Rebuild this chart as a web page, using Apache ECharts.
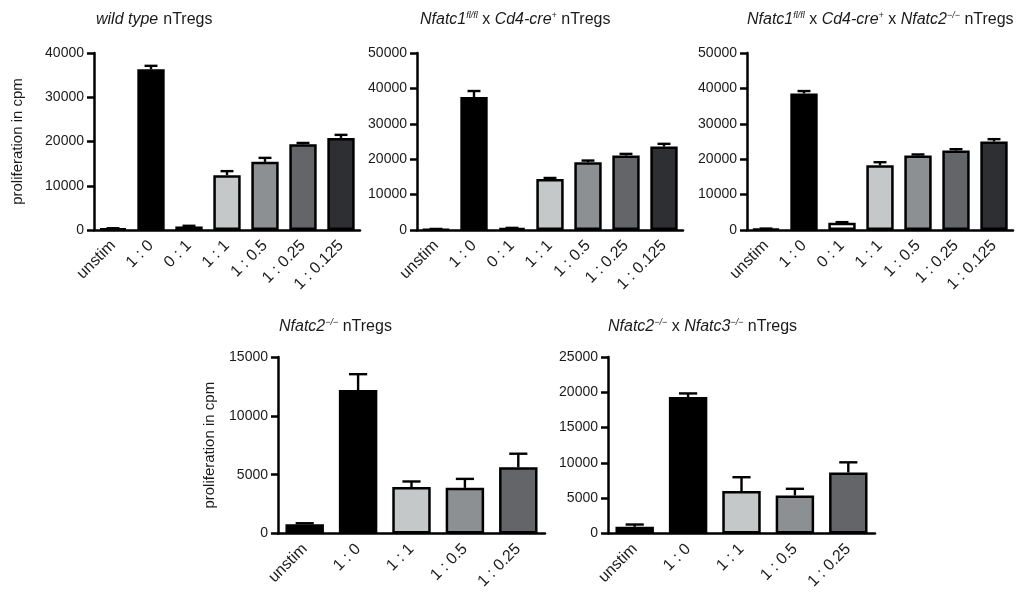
<!DOCTYPE html>
<html>
<head>
<meta charset="utf-8">
<style>
  html, body { margin: 0; padding: 0; background: #fff; }
  #chart { width: 1035px; height: 592px; }
</style>
<script src="https://cdn.jsdelivr.net/npm/echarts@6/dist/echarts.min.js"></script>
</head>
<body>
<div id="chart"></div>
<script>
// categories
var catsTop = ['unstim', '1 : 0', '0 : 1', '1 : 1', '1 : 0.5', '1 : 0.25', '1 : 0.125']
var catsBottom = ['unstim', '1 : 0', '1 : 1', '1 : 0.5', '1 : 0.25']

// means and upper error (SEM)
var wtMean = [300, 36300, 800, 12400, 15400, 19370, 20800]
var wtErr = [100, 800, 150, 900, 900, 300, 700]
var c1Mean = [200, 37560, 500, 14430, 19160, 21040, 23580]
var c1Err = [100, 1700, 100, 270, 460, 460, 760]
var c1c2Mean = [300, 38580, 2070, 18300, 21040, 22450, 25000]
var c1c2Err = [100, 670, 150, 850, 300, 380, 660]
var c2Mean = [790, 12190, 3940, 3880, 5630]
var c2Err = [80, 1350, 480, 760, 1150]
var c2c3Mean = [940, 19330, 6000, 5390, 8630]
var c2c3Err = [330, 510, 1970, 940, 1450]

// y axis ranges
var yMaxTop = [40000, 50000, 50000]
var yMaxBottom = [15000, 25000]
var yStepTop = 10000
var yStepBottom = [5000, 5000]

var FONT = 'Liberation Sans, Arial, sans-serif'
var INK = '#1a1a1a'

var barColorsTop = ['#000000', '#000000', '#000000', '#c5c8c8', '#8d9093', '#636569', '#2e2f32']
var barColorsTop3 = ['#000000', '#000000', '#ffffff', '#c5c8c8', '#8d9093', '#636569', '#2e2f32']
var barColorsBottom = ['#000000', '#000000', '#c5c8c8', '#8d9093', '#636569']

var panels = [
  { grid: { left: 94, top: 53, width: 266, height: 177 }, cats: catsTop, mean: wtMean, err: wtErr, colors: barColorsTop, max: yMaxTop[0], step: yStepTop, yName: 'proliferation in cpm', nameGap: 69 },
  { grid: { left: 417, top: 53, width: 266, height: 177 }, cats: catsTop, mean: c1Mean, err: c1Err, colors: barColorsTop, max: yMaxTop[1], step: yStepTop },
  { grid: { left: 747, top: 53, width: 266, height: 177 }, cats: catsTop, mean: c1c2Mean, err: c1c2Err, colors: barColorsTop3, max: yMaxTop[2], step: yStepTop },
  { grid: { left: 278, top: 357, width: 267, height: 178 }, cats: catsBottom, mean: c2Mean, err: c2Err, colors: barColorsBottom, max: yMaxBottom[0], step: yStepBottom[0], yName: 'proliferation in cpm', nameGap: 61 },
  { grid: { left: 608, top: 357, width: 267, height: 178 }, cats: catsBottom, mean: c2c3Mean, err: c2c3Err, colors: barColorsBottom, max: yMaxBottom[1], step: yStepBottom[1] }
]

var titleRich = {
  it: { fontFamily: FONT, fontSize: 16, fontStyle: 'italic', fontWeight: 'normal', color: INK, lineHeight: 18, verticalAlign: 'bottom' },
  n: { fontFamily: FONT, fontSize: 16, fontWeight: 'normal', color: INK, lineHeight: 18, verticalAlign: 'bottom' },
  sup: { fontFamily: FONT, fontSize: 9, fontStyle: 'italic', fontWeight: 'normal', color: INK, lineHeight: 18, verticalAlign: 'top', padding: [1, 0, 0, 0] }
}
var titles = [
  { left: 96, top: 10, text: '{it|wild type} {n|nTregs}' },
  { left: 420, top: 10, text: '{it|Nfatc1}{sup|fl/fl}{n| x }{it|Cd4-cre}{sup|+}{n| nTregs}' },
  { left: 747, top: 10, text: '{it|Nfatc1}{sup|fl/fl}{n| x }{it|Cd4-cre}{sup|+}{n| x }{it|Nfatc2}{sup|\u2212/\u2212}{n| nTregs}' },
  { left: 279, top: 317, text: '{it|Nfatc2}{sup|\u2212/\u2212}{n| nTregs}' },
  { left: 608, top: 317, text: '{it|Nfatc2}{sup|\u2212/\u2212}{n| x }{it|Nfatc3}{sup|\u2212/\u2212}{n| nTregs}' }
]

function errorBarItem(params, api) {
  var x = api.value(0)
  var v = api.value(1)
  var e = api.value(2)
  var base = api.coord([x, v])
  var top = api.coord([x, v + e])
  var half = api.size([1, 0])[0] * 0.17
  var style = { stroke: '#000', lineWidth: 2.4 }
  return {
    type: 'group',
    children: [
      { type: 'line', shape: { x1: base[0], y1: base[1], x2: top[0], y2: top[1] }, style: style },
      { type: 'line', shape: { x1: top[0] - half, y1: top[1], x2: top[0] + half, y2: top[1] }, style: style }
    ]
  }
}

var option = {
  backgroundColor: '#fff',
  animation: false,
  title: titles.map(function (t) {
    return { left: t.left, top: t.top, padding: 0, text: t.text, textStyle: { fontWeight: 'normal', rich: titleRich } }
  }),
  grid: panels.map(function (p) { return p.grid }),
  xAxis: panels.map(function (p, i) {
    return {
      type: 'category',
      gridIndex: i,
      data: p.cats,
      boundaryGap: true,
      axisLine: { lineStyle: { color: '#000', width: 2.5 } },
      axisTick: { alignWithLabel: true, length: 6, lineStyle: { color: '#000', width: 2.5 } },
      axisLabel: { rotate: 45, fontFamily: FONT, fontSize: 16, color: INK, margin: 13, interval: 0 },
      splitLine: { show: false }
    }
  }),
  yAxis: panels.map(function (p, i) {
    return {
      type: 'value',
      gridIndex: i,
      min: 0,
      max: p.max,
      interval: p.step,
      name: p.yName || '',
      nameLocation: 'middle',
      nameRotate: 90,
      nameGap: p.nameGap || 0,
      nameTextStyle: { fontFamily: FONT, fontSize: 15, color: INK },
      axisLine: { show: true, lineStyle: { color: '#000', width: 2.5 } },
      axisTick: { show: true, length: 7, lineStyle: { color: '#000', width: 2.5 } },
      axisLabel: {
        fontFamily: FONT, fontSize: 14, color: INK, margin: 10,
        formatter: function (v) { return String(v) }
      },
      splitLine: { show: false }
    }
  }),
  series: []
}

panels.forEach(function (p, i) {
  option.series.push({
    type: 'bar',
    xAxisIndex: i,
    yAxisIndex: i,
    barWidth: '72%',
    data: p.mean.map(function (v, j) {
      return { value: v, itemStyle: { color: p.colors[j], borderColor: '#000', borderWidth: 2.5 } }
    }),
    z: 2
  })
  option.series.push({
    type: 'custom',
    xAxisIndex: i,
    yAxisIndex: i,
    renderItem: errorBarItem,
    encode: { x: 0, y: 1 },
    data: p.mean.map(function (v, j) { return [j, v, p.err[j]] }),
    z: 3
  })
})

var chart = echarts.init(document.getElementById('chart'))
chart.setOption(option)
</script>
</body>
</html>
